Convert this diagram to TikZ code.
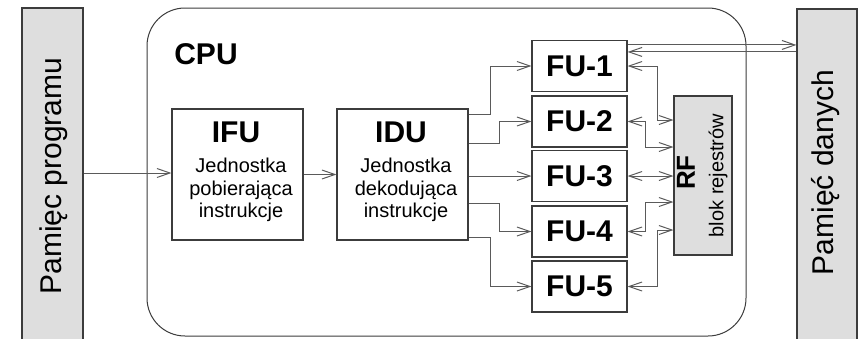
\documentclass[tikz,border=0pt]{standalone}
\usepackage{fontspec}
\setmainfont{Liberation Sans}
\usetikzlibrary{arrows.meta}
\definecolor{memfill}{HTML}{DEDEDE}
\definecolor{edge}{HTML}{3C3C3C}
\definecolor{wire}{HTML}{5A5A5A}
\tikzset{
  unitbox/.style={draw=edge, line width=1.1pt, fill=white, inner sep=0pt},
  membox/.style={draw=edge, line width=1.1pt, fill=memfill, inner sep=0pt},
  fubox/.style={unitbox, minimum width=95pt, minimum height=51pt, font=\fontsize{30}{32}\selectfont\bfseries},
  bigbox/.style={unitbox, minimum width=131pt, minimum height=131pt},
  title/.style={font=\fontsize{30}{32}\selectfont\bfseries, inner sep=0pt},
  body/.style={font=\fontsize{20}{22.5}\selectfont, align=center, inner sep=0pt},
  wirestyle/.style={draw=wire, line width=1pt, arrows={-Straight Barb[length=13pt,width=9pt]}},
  bothways/.style={wirestyle, arrows={Straight Barb[length=13pt,width=9pt]-Straight Barb[length=13pt,width=9pt]}},
}
\begin{document}
\begin{tikzpicture}[x=1pt, y=-1pt]
\useasboundingbox (0,0) rectangle (859,338);

% memories
\node[membox, minimum width=61pt, minimum height=345pt] (pp) at (52.5,180.5) {};
\node[rotate=90, font=\fontsize{30}{32}\selectfont, inner sep=0pt] (pptext) at (54,176) {Pamięc programu};
\node[membox, minimum width=60pt, minimum height=345pt] (pd) at (827,181.5) {};
\node[rotate=90, font=\fontsize{30}{32}\selectfont, inner sep=0pt] (pdtext) at (826,172.5) {Pamięć danych};

% processor outline
\node[draw=edge, line width=1pt, rounded corners=38pt, minimum width=599pt, minimum height=328pt, inner sep=0pt] (cpu) at (446.5,172) {};
\node[title] (cputext) at (206,54) {CPU};

% fetch and decode units
\node[bigbox] (ifu) at (237.5,174.5) {};
\node[title] (ifutitle) at (236,132) {IFU};
\node[body] (ifubody) at (241,190) {Jednostka\\pobierająca\\instrukcje};
\node[bigbox] (idu) at (402.5,174.5) {};
\node[title] (idutitle) at (401,132) {IDU};
\node[body] (idubody) at (406,190) {Jednostka\\dekodująca\\instrukcje};

% functional units
\node[fubox] (fu1) at (579.5,66) {FU-1};
\node[fubox] (fu2) at (579.5,121.5) {FU-2};
\node[fubox] (fu3) at (579.5,176) {FU-3};
\node[fubox] (fu4) at (579.5,231.5) {FU-4};
\node[fubox] (fu5) at (579.5,286.5) {FU-5};

% register file
\node[membox, minimum width=58pt, minimum height=159pt] (rf) at (703,175.5) {};
\node[rotate=90, font=\fontsize{26}{28}\selectfont\bfseries, inner sep=0pt] (rftitle) at (686,172.5) {RF};
\node[rotate=90, font=\fontsize{20}{22}\selectfont, inner sep=0pt] (rftext) at (718,175.5) {blok rejestrów};

% instruction path
\draw[wirestyle] (pp.east |- 0,173) -- (ifu.west |- 0,173);
\draw[wirestyle] (ifu.east) -- (idu.west);

% dispatch to functional units
\draw[wirestyle] (idu.east |- 0,114) -- ++(22,0) |- (fu1.west);
\draw[wirestyle] (idu.east |- 0,143) -- ++(31,0) |- (fu2.west);
\draw[wirestyle] (idu.east |- fu3.west) -- (fu3.west);
\draw[wirestyle] (idu.east |- 0,203) -- ++(31,0) |- (fu4.west);
\draw[wirestyle] (idu.east |- 0,237) -- ++(22,0) |- (fu5.west);

% functional units <-> register file
\draw[bothways] (fu1.east) -- ++(30,0) |- (rf.west |- 0,120);
\draw[bothways] (fu2.east) -- ++(18,0) |- (rf.west |- 0,147);
\draw[bothways] (fu3.east) -- (rf.west |- fu3.east);
\draw[bothways] (fu4.east) -- ++(18,0) |- (rf.west |- 0,202);
\draw[bothways] (fu5.east) -- ++(30,0) |- (rf.west |- 0,230);

% FU-1 <-> data memory
\coordinate (out1) at ([yshift=-5pt]fu1.north east);
\coordinate (in1) at ([yshift=-12pt]fu1.north east);
\draw[wirestyle] (out1) -- (out1 -| pd.west);
\draw[wirestyle] (in1 -| pd.west) -- (in1);
\end{tikzpicture}
\end{document}
